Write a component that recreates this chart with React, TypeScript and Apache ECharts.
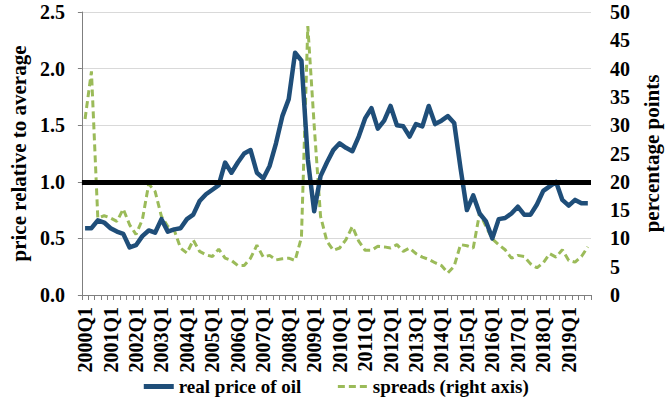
import React, { useEffect, useRef } from "react";
import * as echarts from "echarts";

const YEARS = ["2000","2001","2002","2003","2004","2005","2006","2007","2008","2009","2010","2011","2012","2013","2014","2015","2016","2017","2018","2019"];
const QUARTERS = ["Q1", "Q2", "Q3", "Q4"];
const CATEGORIES: string[] = [];
YEARS.forEach((y) => QUARTERS.forEach((q) => CATEGORIES.push(y + q)));

const OIL_PRICE = [
  0.59, 0.59, 0.66, 0.64, 0.59, 0.56, 0.54, 0.42, 0.44, 0.52,
  0.57, 0.55, 0.67, 0.56, 0.58, 0.59, 0.67, 0.71, 0.83, 0.89,
  0.93, 0.97, 1.17, 1.08, 1.17, 1.25, 1.28, 1.08, 1.03, 1.14,
  1.34, 1.58, 1.73, 2.14, 2.07, 1.2, 0.74, 1.05, 1.17, 1.28,
  1.34, 1.3, 1.27, 1.4, 1.56, 1.65, 1.47, 1.54, 1.67, 1.5,
  1.49, 1.4, 1.51, 1.49, 1.67, 1.51, 1.54, 1.58, 1.52, 1.12,
  0.75, 0.88, 0.72, 0.65, 0.5, 0.67, 0.68, 0.72, 0.78, 0.71,
  0.71, 0.8, 0.92, 0.96, 1.0, 0.84, 0.79, 0.84, 0.81, 0.81,
];

const SPREADS = [
  31.1, 39.5, 13.6, 14.0, 13.6, 13.0, 15.2, 12.4, 10.7, 13.3,
  19.6, 18.3, 13.9, 12.1, 11.5, 8.3, 7.4, 9.7, 7.7, 7.1,
  6.8, 8.1, 6.5, 6.1, 5.2, 5.2, 6.5, 8.8, 6.7, 7.0,
  6.2, 6.4, 6.5, 6.1, 10.2, 47.5, 30.0, 13.9, 9.5, 7.9,
  8.3, 9.8, 12.1, 9.5, 7.9, 7.9, 8.6, 8.5, 8.3, 8.9,
  7.7, 8.3, 7.3, 6.7, 6.3, 5.7, 5.2, 3.9, 5.1, 8.9,
  8.7, 8.3, 14.5, 12.1, 9.9, 8.9, 8.0, 6.5, 7.0, 6.8,
  5.5, 4.8, 5.7, 7.3, 6.7, 8.0, 6.1, 5.8, 6.8, 8.5,
];

const AVERAGE = 1.0;

const FONT = "'Liberation Serif', 'Times New Roman', serif";

export default function App() {
  const ref = useRef<HTMLDivElement>(null);
  useEffect(() => {
    if (!ref.current) return;
    const chart = echarts.init(ref.current, null, { renderer: "svg" });
    chart.setOption({
      animation: false,
      backgroundColor: "#ffffff",
      textStyle: { fontFamily: FONT },
      grid: { left: 79, right: 67, top: 12, bottom: 109, containLabel: false },
      legend: {
        bottom: 3,
        left: "center",
        itemWidth: 30,
        itemHeight: 12,
        itemGap: 35,
        itemStyle: { opacity: 0, borderWidth: 0 },
        textStyle: { fontFamily: FONT, fontWeight: "bold", fontSize: 19, color: "#000" },
        data: [
          { name: "real price of oil", lineStyle: { width: 5, color: "#1f4e79" } },
          { name: "spreads (right axis)", lineStyle: { width: 3, color: "#9bbb59", type: [7, 4] } },
        ],
      },
      xAxis: {
        type: "category",
        data: CATEGORIES,
        boundaryGap: true,
        axisLine: { lineStyle: { color: "#7f7f7f", width: 1 } },
        axisTick: { show: true, interval: 0, length: 5, lineStyle: { color: "#7f7f7f" } },
        axisLabel: {
          interval: 3,
          rotate: 90,
          margin: 12,
          fontFamily: FONT,
          fontWeight: "bold",
          fontSize: 20,
          color: "#000",
        },
        splitLine: { show: false },
      },
      yAxis: [
        {
          type: "value",
          min: 0,
          max: 2.5,
          interval: 0.5,
          name: "price relative to average",
          nameLocation: "middle",
          nameGap: 47,
          nameTextStyle: { fontFamily: FONT, fontWeight: "bold", fontSize: 21, color: "#000" },
          axisLine: { show: true, lineStyle: { color: "#7f7f7f", width: 1 } },
          axisTick: { show: true, length: 4, lineStyle: { color: "#7f7f7f" } },
          axisLabel: {
            margin: 17,
            fontFamily: FONT,
            fontWeight: "bold",
            fontSize: 20,
            color: "#000",
            formatter: (v: number) => v.toFixed(1),
          },
          splitLine: { show: true, lineStyle: { color: "#d9d9d9", width: 1 } },
        },
        {
          type: "value",
          min: 0,
          max: 50,
          interval: 5,
          position: "right",
          name: "percentage points",
          nameLocation: "middle",
          nameGap: 50,
          nameRotate: 90,
          nameTextStyle: { fontFamily: FONT, fontWeight: "bold", fontSize: 21, color: "#000" },
          axisLine: { show: false },
          axisTick: { show: false },
          axisLabel: {
            margin: 19,
            fontFamily: FONT,
            fontWeight: "bold",
            fontSize: 20,
            color: "#000",
          },
          splitLine: { show: false },
        },
      ],
      series: [
        {
          name: "real price of oil",
          type: "line",
          yAxisIndex: 0,
          data: OIL_PRICE,
          symbol: "none",
          lineStyle: { color: "#1f4e79", width: 4.5, join: "round" },
          itemStyle: { color: "#1f4e79" },
          z: 3,
          markLine: {
            silent: true,
            symbol: "none",
            label: { show: false },
            lineStyle: { color: "#000", width: 5, type: "solid" },
            data: [{ yAxis: AVERAGE }],
            z: 4,
          },
        },
        {
          name: "spreads (right axis)",
          type: "line",
          yAxisIndex: 1,
          data: SPREADS,
          symbol: "none",
          lineStyle: { color: "#9bbb59", width: 3, type: [7, 4] },
          itemStyle: { color: "#9bbb59" },
          z: 2,
        },
      ],
    });
    return () => chart.dispose();
  }, []);
  return (
    <div
      ref={ref}
      style={{ position: "fixed", left: 0, top: 0, width: 670, height: 404 }}
    />
  );
}
